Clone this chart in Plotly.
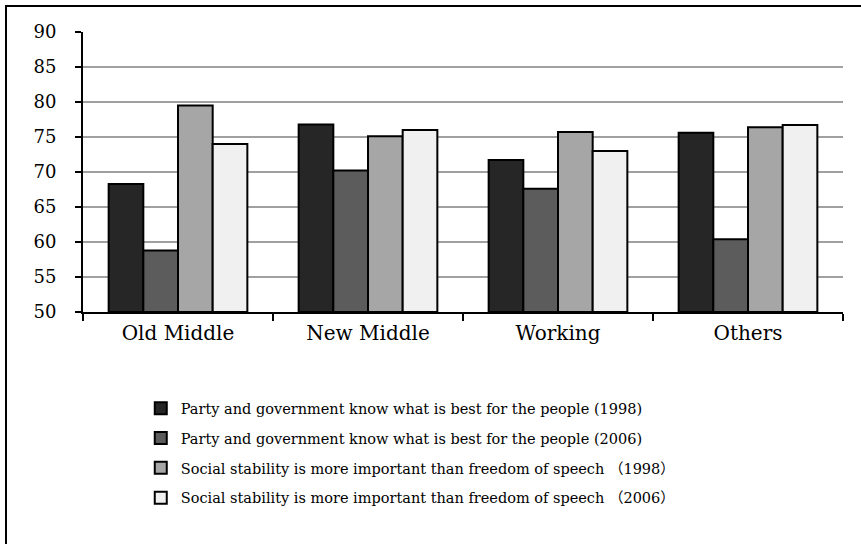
import plotly.graph_objects as go

# Class groups on the x axis
categories = ["Old Middle", "New Middle", "Working", "Others"]

# Percent agreeing, by survey item and year
party_1998 = [68.3, 76.8, 71.7, 75.6]
party_2006 = [58.8, 70.2, 67.6, 60.4]
stability_1998 = [79.5, 75.1, 75.7, 76.4]
stability_2006 = [74.0, 76.0, 73.0, 76.7]

series_names = [
    "Party and government know what is best for the people (1998)",
    "Party and government know what is best for the people (2006)",
    "Social stability is more important than freedom of speech\u00a0（1998）",
    "Social stability is more important than freedom of speech\u00a0（2006）",
]
series_values = [party_1998, party_2006, stability_1998, stability_2006]
series_colors = ["#262626", "#5c5c5c", "#a6a6a6", "#f0f0f0"]

y_ticks = [50, 55, 60, 65, 70, 75, 80, 85, 90]
Y_FLOOR = 50

FONT = "DejaVu Serif, Noto Sans CJK SC"

fig = go.Figure()
for i, (name, vals, col) in enumerate(zip(series_names, series_values, series_colors)):
    # bars rise from the axis floor at 50
    fig.add_trace(go.Bar(
        x=categories,
        y=[v - Y_FLOOR for v in vals],
        base=Y_FLOOR,
        name=name,
        legendgroup=f"g{i}",
        marker=dict(color=col, line=dict(color="#000000", width=2)),
    ))

fig.update_layout(
    width=861,
    height=544,
    margin=dict(l=83, r=18, t=32, b=232),
    paper_bgcolor="white",
    plot_bgcolor="white",
    barmode="group",
    bargap=0.27,
    bargroupgap=0,
    font=dict(family=FONT, color="#000000"),
    showlegend=True,
    legend=dict(
        x=0.076, xanchor="left",
        y=-0.2865, yanchor="top",
        orientation="v",
        font=dict(family=FONT, size=14.5, color="#000000"),
        tracegroupgap=8,
        itemclick=False,
        bgcolor="rgba(0,0,0,0)",
    ),
    xaxis=dict(
        showline=True, linecolor="#000000", linewidth=2,
        ticks="outside", ticklen=7, tickcolor="#000000", tickwidth=2,
        tickson="boundaries",
        ticklabelstandoff=2,
        tickfont=dict(family=FONT, size=20),
        showgrid=False,
    ),
    yaxis=dict(
        range=[50, 90],
        tickvals=y_ticks,
        showline=True, linecolor="#000000", linewidth=2,
        ticks="outside", ticklen=6, tickcolor="#000000", tickwidth=2,
        ticklabelstandoff=15,
        tickfont=dict(family=FONT, size=18),
        showgrid=True, gridcolor="#a0a0a0", gridwidth=1.5,
        zeroline=False,
        fixedrange=True,
    ),
    shapes=[
        # frame around the whole chart
        dict(type="rect", xref="paper", yref="paper",
             x0=-77 / 760, x1=1.2, y0=-1.2, y1=1 + 26 / 280,
             line=dict(color="#000000", width=2), fillcolor="rgba(0,0,0,0)",
             layer="below"),
    ],
)

fig.write_html("out.html")
